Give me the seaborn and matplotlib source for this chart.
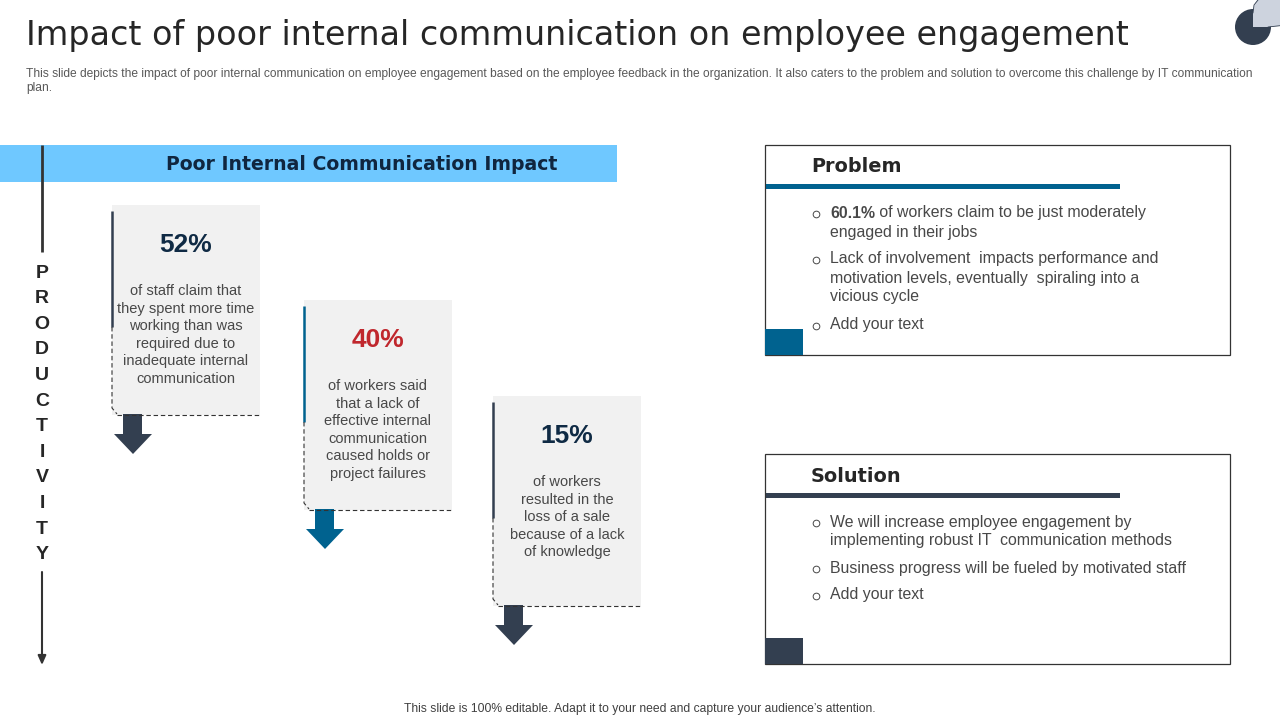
import matplotlib
matplotlib.use('Agg')
import matplotlib.pyplot as plt
import seaborn as sns
from matplotlib.patches import Rectangle, Circle, PathPatch, Polygon
from matplotlib.path import Path

TITLE = 'Impact of poor internal communication on employee engagement'
SUBTITLE = ['This slide depicts the impact of poor internal communication on employee engagement based on the employee feedback in the organization. It also caters to the problem and solution to overcome this challenge by IT communication',
            'plan.']
BANNER = 'Poor Internal Communication Impact'
FOOTER = 'This slide is 100% editable. Adapt it to your need and capture your audience\u2019s attention.'
SIDE_WORD = 'PRODUCTIVITY'

# cards
percents = ['52%', '40%', '15%']
percent_colors = ['#0f2a44', '#c0272d', '#0f2a44']
card_lines = [
    ['of staff claim that', 'they spent more time', 'working than was', 'required due to', 'inadequate internal', 'communication'],
    ['of workers said', 'that a lack of', 'effective internal', 'communication', 'caused holds or', 'project failures'],
    ['of workers', 'resulted in the', 'loss of a sale', 'because of a lack', 'of knowledge'],
]
card_x = [112, 304, 493]
card_y = [205, 300, 396]
card_colors = ['#333f50', '#00628f', '#333f50']

# right hand boxes
box_titles = ['Problem', 'Solution']
box_y = [145, 454]
box_colors = ['#00628f', '#333f50']
problem_rows = [
    (212, True, ['60.1%', ' of workers claim to be just moderately']),
    (231, False, ['engaged in their jobs']),
    (258, True, ['Lack of involvement  impacts performance and']),
    (277, False, ['motivation levels, eventually  spiraling into a']),
    (296, False, ['vicious cycle']),
    (324, True, ['Add your text']),
]
solution_rows = [
    (521, True, ['We will increase employee engagement by']),
    (540, False, ['implementing robust IT  communication methods']),
    (567, True, ['Business progress will be fueled by motivated staff']),
    (594, True, ['Add your text']),
]

sns.set_theme(style='white')
plt.rcParams['font.family'] = ['Liberation Sans', 'DejaVu Sans']

fig, ax = plt.subplots(figsize=(12.8, 7.2), dpi=100)
fig.subplots_adjust(0, 0, 1, 1)
ax.set_xlim(0, 1280)
ax.set_ylim(720, 0)
ax.axis('off')
BODY = '#484848'

# header
ax.text(26, 35.5, TITLE, fontsize=24.02, family='DejaVu Sans', color='#262626', va='center')
ax.text(26, 74, SUBTITLE[0], fontsize=8.66, color='#595959', va='center')
ax.text(26, 88.5, SUBTITLE[1], fontsize=8.66, color='#595959', va='center')

# corner shapes
ax.add_patch(Circle((1253, 27), 18, color='#333f50', lw=0))
leaf = Path([(1253, 27), (1253, 13), (1253, 3), (1259, -2), (1290, -2), (1290, 25), (1268, 27), (1253, 27)],
            [Path.MOVETO, Path.LINETO, Path.CURVE3, Path.CURVE3, Path.LINETO, Path.LINETO, Path.LINETO, Path.CLOSEPOLY])
ax.add_patch(PathPatch(leaf, fc='#cdd3de', ec='none', zorder=3))
ax.plot([1253, 1254, 1258], [13, 5, 0], color='#333f50', lw=0.6, zorder=4)
ax.plot([1268, 1280], [27, 25.7], color='#333f50', lw=0.6, zorder=4)

# banner
ax.add_patch(Rectangle((0, 145), 617, 37, color='#6fc8ff', lw=0))
ax.text(362, 165, BANNER, fontsize=13.64, family='DejaVu Sans', weight='bold', color='#10263f', ha='center', va='center')

# productivity axis
ax.plot([42, 42], [145, 252], color='#333333', lw=2.0, solid_capstyle='butt', zorder=3)
ax.annotate('', xy=(42, 665), xytext=(42, 572),
            arrowprops=dict(arrowstyle='-|>,head_width=0.2,head_length=0.45', color='#333333', lw=1.5, shrinkA=0, shrinkB=0))
for i, ch in enumerate(SIDE_WORD):
    ax.text(42, 273 + i * 25.6, ch, fontsize=14, weight='bold', color='#262626', ha='center', va='center')

# cards with percent and arrow
for x, y, pct, pct_col, lines, col in zip(card_x, card_y, percents, percent_colors, card_lines, card_colors):
    ax.add_patch(Rectangle((x, y), 148, 210, color='#f1f1f1', lw=0))
    ax.plot([x, x], [y + 6, y + 122], color=col, lw=1.8, solid_capstyle='butt', zorder=3)
    ax.plot([x, x, x + 5], [y + 122, y + 203, y + 209], color='#333333', lw=0.8, ls=(0, (4, 2.5)), zorder=3)
    ax.plot([x + 5, x + 148], [y + 209.5, y + 209.5], color='#333333', lw=0.8, ls=(0, (4, 2.5)), zorder=3)
    ax.text(x + 74, y + 40, pct, fontsize=19, weight='bold', color=pct_col, ha='center', va='center')
    for j, line in enumerate(lines):
        ax.text(x + 74, y + 86 + j * 17.6, line, fontsize=10.5, color=BODY, ha='center', va='center')
    # down arrow under the card
    ax.add_patch(Polygon([(x + 11, y + 209), (x + 30, y + 209), (x + 30, y + 229), (x + 40, y + 229),
                          (x + 21, y + 249), (x + 2, y + 229), (x + 11, y + 229)], color=col, lw=0))

# problem / solution boxes
for y, name, col, rows in zip(box_y, box_titles, box_colors, [problem_rows, solution_rows]):
    ax.add_patch(Rectangle((765, y), 464.5, 209.5, fc='none', ec='#333333', lw=0.9))
    ax.add_patch(Rectangle((766, y + 39), 354, 5, color=col, lw=0))
    ax.add_patch(Rectangle((765, y + 184), 38, 25.5, color=col, lw=0))
    ax.text(811, y + 22, name, fontsize=13.9, family='DejaVu Sans', weight='bold', color='#262626', va='center')
    for ry, bullet, parts in rows:
        if bullet:
            ax.plot(816, ry + 2, 'o', ms=4.8, mfc='none', mec=BODY, mew=0.7)
        if len(parts) == 2:
            t = ax.text(830, ry + 1, parts[0], fontsize=11.4, weight='bold', color=BODY, va='center')
            fig.canvas.draw()
            end = t.get_window_extent().transformed(ax.transData.inverted()).x1
            ax.text(end, ry + 1, parts[1], fontsize=11.4, color=BODY, va='center')
        else:
            ax.text(830, ry + 1, parts[0], fontsize=11.4, color=BODY, va='center')

# footer
ax.text(639.5, 709, FOOTER, fontsize=8.7, color='#404040', ha='center', va='center')

fig.savefig('out.png', dpi=100)
